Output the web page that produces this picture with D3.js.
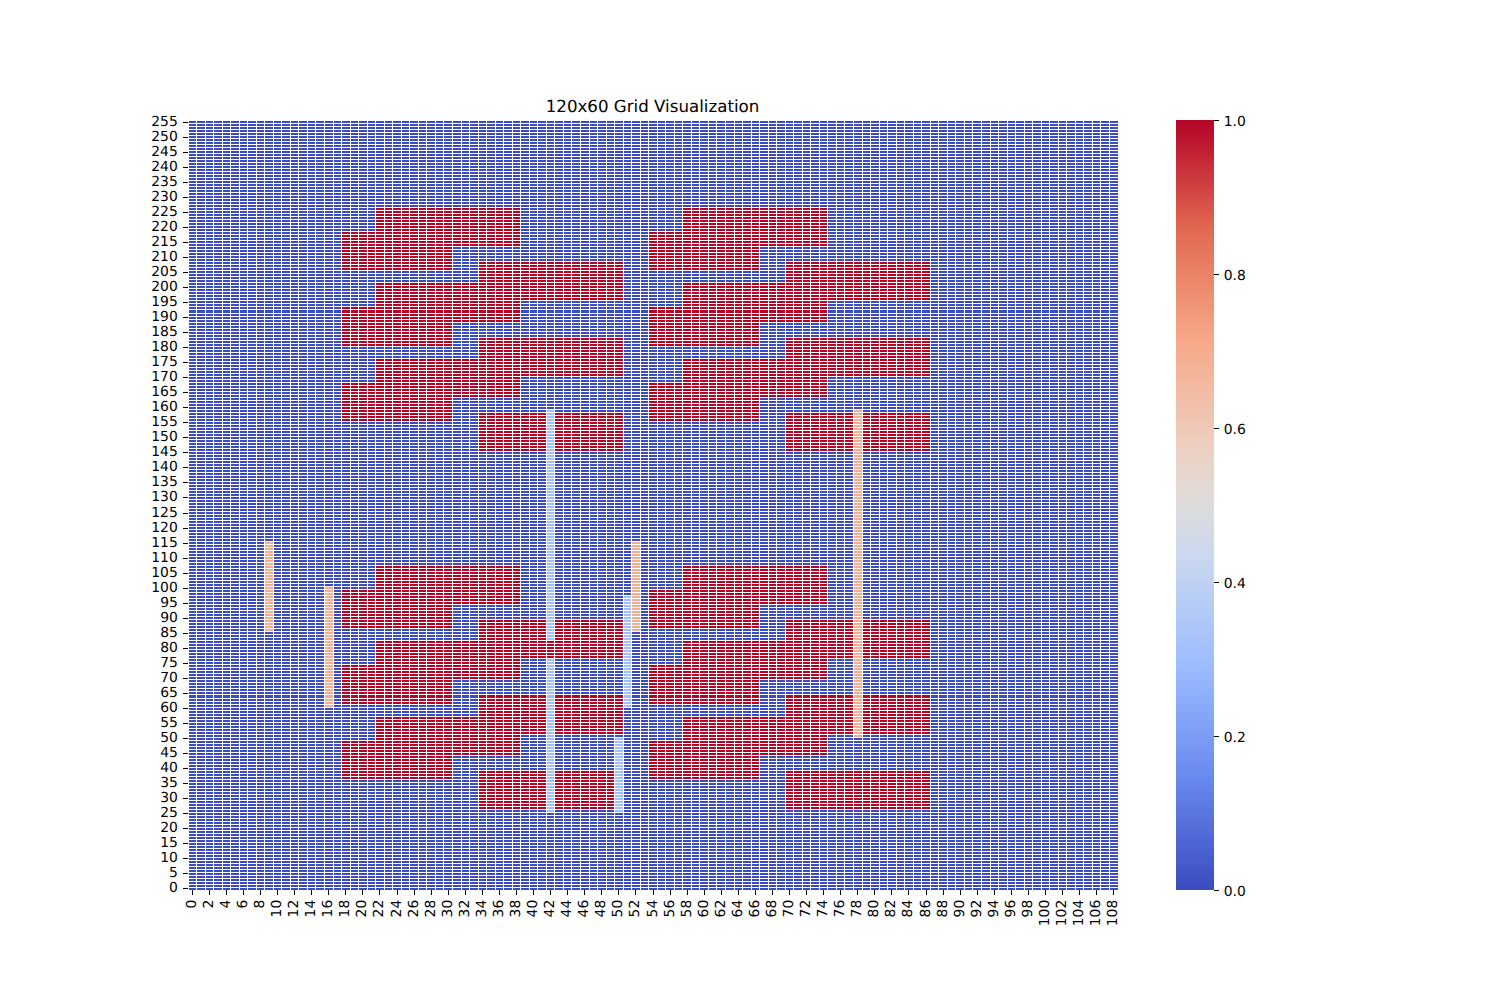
<!DOCTYPE html>
<html>
<head>
<meta charset="utf-8">
<title>120x60 Grid Visualization</title>
<script src="https://cdn.jsdelivr.net/npm/d3@7/dist/d3.min.js"></script>
<style>
  html, body { margin: 0; padding: 0; background: #fff; }
  svg { display: block; }
  text { font-family: "DejaVu Sans", sans-serif; fill: #000; text-rendering: geometricPrecision; }
</style>
</head>
<body>
<svg id="chart" width="1500" height="1000"></svg>
<script>
const chartTitle = "120x60 Grid Visualization";
const colCount = 109;
const rowCount = 256;

// red blocks: first row of each band (every band is 13 rows tall)
const bandHeight = 13;
const bandARows = [214, 189, 164, 95, 70, 45];
const bandBRows = [206, 181, 156, 87, 62, 37];
const bandCRows = [196, 171, 146, 77, 52, 27];

// first and last column of the band, left group and right group
const bandACols = [[22, 38], [58, 74]];
const bandBCols = [[18, 30], [54, 66]];
const bandCCols = [[34, 50], [70, 86]];

// vertical strips drawn over the blocks: col, first row, last row, value
const strips = [
  [9, 86, 115, 0.7],
  [16, 61, 100, 0.7],
  [42, 26, 76, 0.3],
  [42, 83, 159, 0.3],
  [50, 26, 50, 0.3],
  [51, 61, 97, 0.3],
  [52, 86, 115, 0.7],
  [78, 51, 159, 0.7]
];

const colorbarTicks = [0, 0.2, 0.4, 0.6, 0.8, 1];

// coolwarm colour map
const colorStops = [0, 1 / 7, 2 / 7, 3 / 7, 0.5, 4 / 7, 5 / 7, 6 / 7, 1];
const colorValues = ["#3b4cc0", "#6788ee", "#9abbff", "#c9d7f0", "#dddcdc",
                     "#edd1c2", "#f7a889", "#e26952", "#b40426"];

// build the grid
const grid = d3.range(rowCount).map(() => d3.range(colCount).map(() => 0));

function fillBand(rows, cols)
{
  rows.forEach(r0 => {
    cols.forEach(c => {
      for (let r = r0; r < r0 + bandHeight; r++)
        for (let x = c[0]; x <= c[1]; x++)
          grid[r][x] = 1;
    });
  });
}
fillBand(bandARows, bandACols);
fillBand(bandBRows, bandBCols);
fillBand(bandCRows, bandCCols);

strips.forEach(s => {
  for (let r = s[1]; r <= s[2]; r++)
    grid[r][s[0]] = s[3];
});

const cells = [];
grid.forEach((row, r) => row.forEach((v, c) => cells.push({ r: r, c: c, v: v })));

// layout
const plotLeft = 187.5, plotTop = 120, plotW = 930, plotH = 770;
const barX = 1176, barW = 38;
const tickLen = 4.86, tickPad = 4.86, fontSize = 13.89;

const svg = d3.select("#chart");

const x = d3.scaleBand().domain(d3.range(colCount)).range([plotLeft, plotLeft + plotW]);
const y = d3.scaleBand().domain(d3.range(rowCount).reverse()).range([plotTop, plotTop + plotH]);
const color = d3.scaleLinear().domain(colorStops).range(colorValues);

// snap to whole pixels, the 1px white grid line sits on the snapped edge
const snap = v => Math.floor(v + 0.5);
const cellX0 = d => snap(x(d.c)) + 1;
const cellX1 = d => snap(x(d.c) + x.bandwidth());
const cellY0 = d => snap(y(d.r)) + 1;
const cellY1 = d => snap(y(d.r) + y.bandwidth());

svg.append("g")
  .attr("shape-rendering", "crispEdges")
  .selectAll("rect")
  .data(cells)
  .join("rect")
  .attr("x", cellX0)
  .attr("y", cellY0)
  .attr("width", d => cellX1(d) - cellX0(d))
  .attr("height", d => cellY1(d) - cellY0(d))
  .attr("fill", d => color(d.v));

// axes
const xAxis = d3.axisBottom(x)
  .tickValues(d3.range(0, colCount, 2))
  .tickSize(tickLen)
  .tickPadding(tickPad)
  .offset(0);
const yAxis = d3.axisLeft(y)
  .tickValues(d3.range(0, rowCount, 5))
  .tickSize(tickLen)
  .tickPadding(tickPad)
  .offset(0);

const gx = svg.append("g").attr("transform", "translate(0," + (plotTop + plotH) + ")").call(xAxis);
const gy = svg.append("g").attr("transform", "translate(" + plotLeft + ",0)").call(yAxis);

function styleAxis(g)
{
  g.select(".domain").remove();
  g.selectAll("line")
    .attr("stroke", "#000")
    .attr("stroke-width", 1)
    .attr("shape-rendering", "crispEdges");
  g.selectAll("text").attr("font-size", fontSize).attr("font-family", "DejaVu Sans");
}
styleAxis(gx);
styleAxis(gy);

gx.selectAll(".tick")
  .attr("transform", d => "translate(" + (snap(x(d) + x.bandwidth() / 2) + 0.5) + ",0)");
gy.selectAll(".tick")
  .attr("transform", d => "translate(0," + (snap(y(d) + y.bandwidth() / 2) + 0.5) + ")");

gx.selectAll("text")
  .attr("text-anchor", "end")
  .attr("transform", "rotate(-90)")
  .attr("x", -(tickLen + tickPad))
  .attr("y", 0)
  .attr("dy", "0.27em");
gy.selectAll("text").attr("dy", "0.26em");

// title
svg.append("text")
  .attr("x", plotLeft + plotW / 2)
  .attr("y", plotTop - 8.33)
  .attr("text-anchor", "middle")
  .attr("font-size", 16.67)
  .text(chartTitle);

// colour bar
const grad = svg.append("defs").append("linearGradient")
  .attr("id", "barGrad")
  .attr("x1", 0).attr("y1", 1).attr("x2", 0).attr("y2", 0);
grad.selectAll("stop")
  .data(colorStops)
  .join("stop")
  .attr("offset", d => d)
  .attr("stop-color", d => color(d));

const barScale = d3.scaleLinear().domain([0, 1]).range([plotTop + plotH, plotTop]);

svg.append("rect")
  .attr("x", barX)
  .attr("y", plotTop)
  .attr("width", barW)
  .attr("height", plotH)
  .attr("fill", "url(#barGrad)");

const gb = svg.append("g")
  .attr("transform", "translate(" + (barX + barW) + ",0)")
  .call(d3.axisRight(barScale)
    .tickValues(colorbarTicks)
    .tickFormat(d3.format(".1f"))
    .tickSize(tickLen)
    .tickPadding(tickPad)
    .offset(0));
styleAxis(gb);
gb.selectAll(".tick")
  .attr("transform", d => "translate(0," + (snap(barScale(d)) + 0.5) + ")");
gb.selectAll("text").attr("dy", "0.39em");
</script>
</body>
</html>
